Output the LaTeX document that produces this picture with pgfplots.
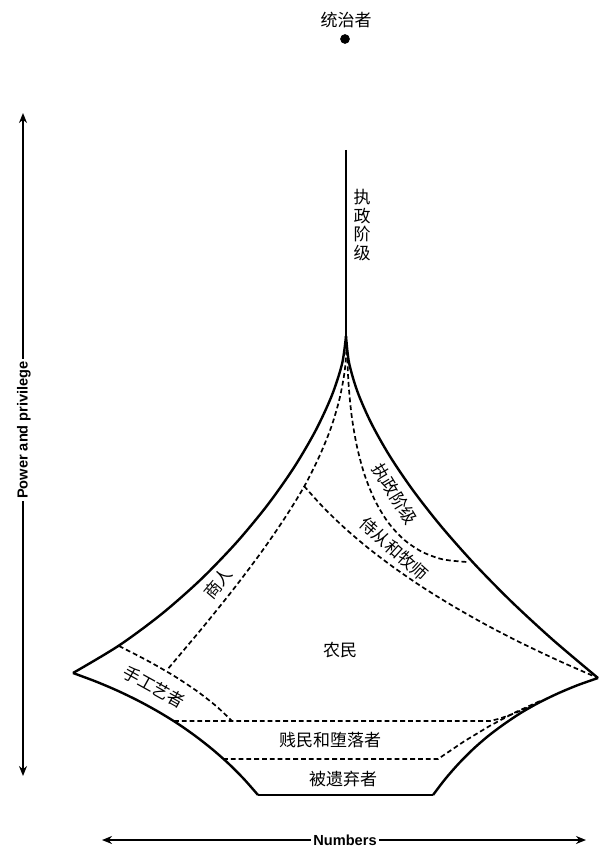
\documentclass[border=0pt]{standalone}
\usepackage{pgfplots}
\pgfplotsset{compat=1.18}
\usepackage{fontspec}
\setmainfont{Liberation Sans}
\newfontfamily\cjk{Noto Sans CJK SC}
\usetikzlibrary{arrows.meta}

% coordinates are in pixels of the 600x850 reference, y downwards
\pgfplotsset{
  outer/.style={black, line width=1.2pt, smooth, no markers},
  inner/.style={black, line width=0.85pt, dash pattern=on 2.4pt off 1.5pt, smooth, no markers},
  flat/.style={black, line width=0.85pt, dash pattern=on 2.4pt off 1.5pt, no markers},
}
\tikzset{lab/.style={font=\cjk\fontsize{8.5}{9.2}\selectfont, inner sep=0pt}}

\begin{document}
\begin{tikzpicture}
\begin{axis}[
    scale only axis,
    width=300pt, height=425pt,
    xmin=0, xmax=600, ymin=0, ymax=850,
    y dir=reverse,
    hide axis,
    clip=false,
]
\addplot[draw=none] coordinates {(0,0) (600,850)};

% ruler and the spike of the governing class
\addplot[black, line width=1.4pt] coordinates {(346,150) (346,340)};
\addplot[black, mark=*, mark size=2.2pt, only marks] coordinates {(345,39)};

% outer outline
\addplot[outer] coordinates {
  (346,336) (342.1,363.6) (331.9,395.3) (315.8,430.2) (294.3,467.0) (267.6,504.9)
  (236.3,542.7) (200.8,579.5) (161.5,614.1) (118.7,645.7) (73,673)};
\addplot[outer] coordinates {
  (73,673) (96.1,681.6) (118.2,691.0) (139.2,701.2) (159.2,712.2) (178.3,724.0)
  (196.2,736.6) (213.2,750.0) (229.2,764.2) (244.1,779.2) (258,795)};
\addplot[black, line width=1.2pt] coordinates {(258,795) (433,795)};
\addplot[outer] coordinates {
  (433,795) (445.3,778.9) (458.5,763.8) (472.6,749.6) (487.7,736.4) (503.8,724.3)
  (520.7,713.0) (538.6,702.8) (557.5,693.6) (577.3,685.3) (598,678)};
\addplot[outer] coordinates {
  (346,336) (349.0,362.5) (357.4,391.5) (371.0,422.7) (389.6,455.8) (413.1,490.5)
  (441.3,526.5) (474.1,563.6) (511.2,601.4) (552.6,639.6) (598,678)};

% inner boundaries
\addplot[inner] coordinates {% merchants
  (347,342) (344.7,370.9) (339.4,399.3) (331.0,427.7) (319.2,456.6) (304.2,486.5)
  (284.8,518.0) (261.8,551.5) (234.6,587.7) (203.1,627.0) (167,670)};
\addplot[inner] coordinates {% retainers and priests
  (304,486) (322.8,506.8) (343.9,527.3) (367.4,547.4) (393.3,567.1) (421.5,586.5)
  (452.1,605.5) (485.0,624.2) (520.3,642.5) (558.0,660.4) (598,678)};
\addplot[inner] coordinates {% governing class
  (347,343) (348.3,380.0) (351.5,414.6) (356.9,446.3) (364.6,474.9) (374.8,500.1)
  (387.5,521.5) (402.9,538.7) (421.2,551.4) (442.5,559.3) (467,562)};
\addplot[inner] coordinates {% artisans
  (119,646) (148.5,661.2) (174.5,676.2) (197.1,691.2) (216.3,706.2) (232,721)};
\addplot[flat] coordinates {
  (174,721) (490,721) (500,718.5) (510,715) (520,711) (530,706.5) (540,702)};
\addplot[flat] coordinates {
  (223,759) (438,759) (463.9,741.5) (489.5,726) (514.9,712.5) (540,701)};

% the two arrows
\addplot[black, line width=1pt, {Stealth[length=5pt,width=4pt]}-{Stealth[length=5pt,width=4pt]}]
  coordinates {(23,776) (23,113)};
\addplot[black, line width=1pt, {Stealth[length=5pt,width=4pt]}-{Stealth[length=5pt,width=4pt]}]
  coordinates {(102,840) (586,840)};
\node[fill=white, inner sep=1pt, rotate=90, font=\bfseries\fontsize{7.3}{9}\selectfont]
  at (axis cs:24,430) {Power and privilege};
\node[fill=white, inner sep=1pt, font=\bfseries\fontsize{7.3}{9}\selectfont]
  at (axis cs:345,840) {Numbers};

% labels
\node[lab] at (axis cs:346,20) {统治者};
\node[lab, align=center] at (axis cs:362,225) {执\\政\\阶\\级};
\node[lab, rotate=-59] at (axis cs:395,494) {执政阶级};
\node[lab, rotate=-42] at (axis cs:394,549) {侍从和牧师};
\node[lab, rotate=50] at (axis cs:218,583) {商人};
\node[lab, rotate=-29] at (axis cs:154,687) {手工艺者};
\node[lab] at (axis cs:340,650) {农民};
\node[lab] at (axis cs:330,740) {贱民和堕落者};
\node[lab] at (axis cs:343,779) {被遗弃者};
\end{axis}
\end{tikzpicture}
\end{document}
